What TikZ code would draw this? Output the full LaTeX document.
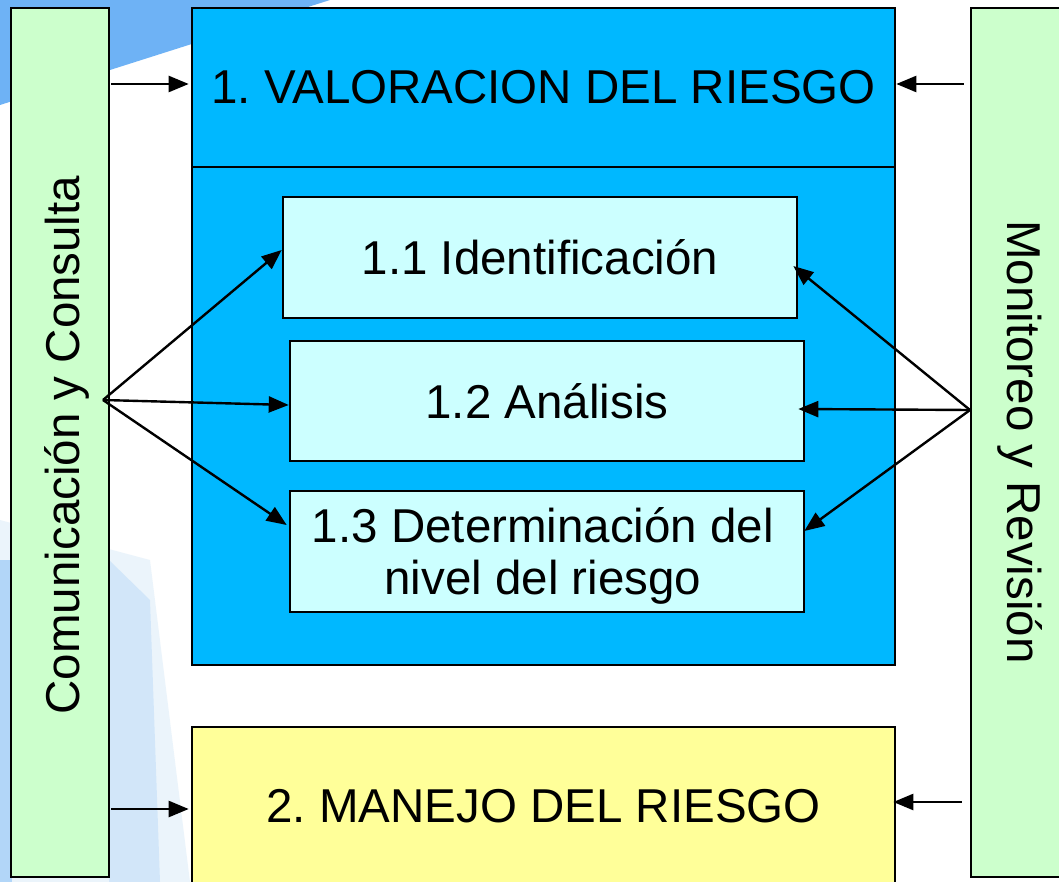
\documentclass[tikz,border=0pt]{standalone}
\usepackage{fontspec}
\setmainfont{Liberation Sans}
\usetikzlibrary{arrows.meta,calc}
\definecolor{vblue}{RGB}{0,184,255}
\definecolor{lcyan}{RGB}{204,255,255}
\definecolor{lgreen}{RGB}{204,255,204}
\definecolor{lyellow}{RGB}{255,255,153}
\definecolor{skyb}{RGB}{110,178,245}
\definecolor{paleb}{RGB}{200,225,245}
\tikzset{
  bigtxt/.style={font=\fontsize{47.5}{52}\selectfont},
  box/.style={draw=black, line width=2.6pt, rectangle, inner sep=0pt, bigtxt, align=center},
  bar/.style={box, fill=lgreen, minimum width=98pt, minimum height=869pt},
  sub/.style={box, fill=lcyan, minimum width=514pt, minimum height=120pt},
  arr/.style={line width=2.4pt, -{Triangle[length=20pt,width=16pt]}}
}
\frenchspacing
\begin{document}
\begin{tikzpicture}[x=1pt,y=-1pt]
\useasboundingbox (0,0) rectangle (1059,882);
% background
\fill[white] (0,0) rectangle (1059,882);
\fill[paleb, opacity=0.35] (0,520) -- (150,560) -- (190,882) -- (0,882) -- cycle;
\fill[skyb] (0,0) -- (330,0) -- (0,105) -- cycle;
\fill[skyb, opacity=0.45] (0,560) -- (12,560) -- (12,882) -- (0,882) -- cycle;
\fill[skyb, opacity=0.2] (109,560) -- (150,600) -- (160,882) -- (109,882) -- cycle;
% side bars
\node[bar] (cc) at (60,442.5) {};
\node[bigtxt, rotate=90] (cctxt) at (67,445) {Comunicación y Consulta};
\node[bar] (mr) at (1020,442.5) {};
\node[bigtxt, rotate=-90] (mrtxt) at (1020,442) {Monitoreo y Revisión};
% main blue box
\node[box, fill=vblue, minimum width=703pt, minimum height=159pt] (valtop) at (543.5,87.5) {1. VALORACION DEL RIESGO};
\node[box, fill=vblue, minimum width=703pt, minimum height=498pt] (valbody) at (543.5,416) {};
% sub boxes
\node[sub, minimum height=121pt] (b11) at (540,257.5) {1.1 Identificación};
\node[sub] (b12) at (547,401) {1.2 Análisis};
\node[sub, minimum height=121pt] (b13) at (547,551.5) {};
\node[bigtxt, align=center] (b13txt) at (543,556) {1.3 Determinación del\\nivel del riesgo};
% yellow box
\node[box, fill=lyellow, minimum width=703pt, minimum height=163pt] (man) at (543.5,808.5) {};
\node[bigtxt] (mantxt) at (543.5,806) {2. MANEJO DEL RIESGO};
% fan points
\coordinate (lfan) at (103,400);
\coordinate (rfan) at (970,410);
% arrows top / bottom
\draw[arr] ($(cc.east |- valtop.west)+(1,-3.5)$) -- ($(valtop.west)+(-2,-3.5)$);
\draw[arr] ($(mr.west |- valtop.west)+(-6,-3.5)$) -- ($(valtop.east)+(0,-3.5)$);
\draw[arr] ($(cc.east |- man.west)+(1,0.5)$) -- ($(man.west)+(-2,0.5)$);
\draw[arr] ($(mr.west |- man.west)+(-8,-6.5)$) -- ($(man.east)+(-3,-6.5)$);
% fans
\draw[arr] (lfan) -- ([yshift=7.5pt]b11.west);
\draw[arr] (lfan) -- ([yshift=-4pt]b12.west);
\draw[arr] (lfan) -- ([yshift=26.5pt,xshift=-2pt]b13.west);
\draw[arr] (rfan) -- ([yshift=-8.5pt,xshift=-5pt]b11.east);
\draw[arr] (rfan) -- ([yshift=-8pt,xshift=-7pt]b12.east);
\draw[arr] (rfan) -- ([yshift=20.5pt,xshift=-1pt]b13.east);
\end{tikzpicture}
\end{document}
